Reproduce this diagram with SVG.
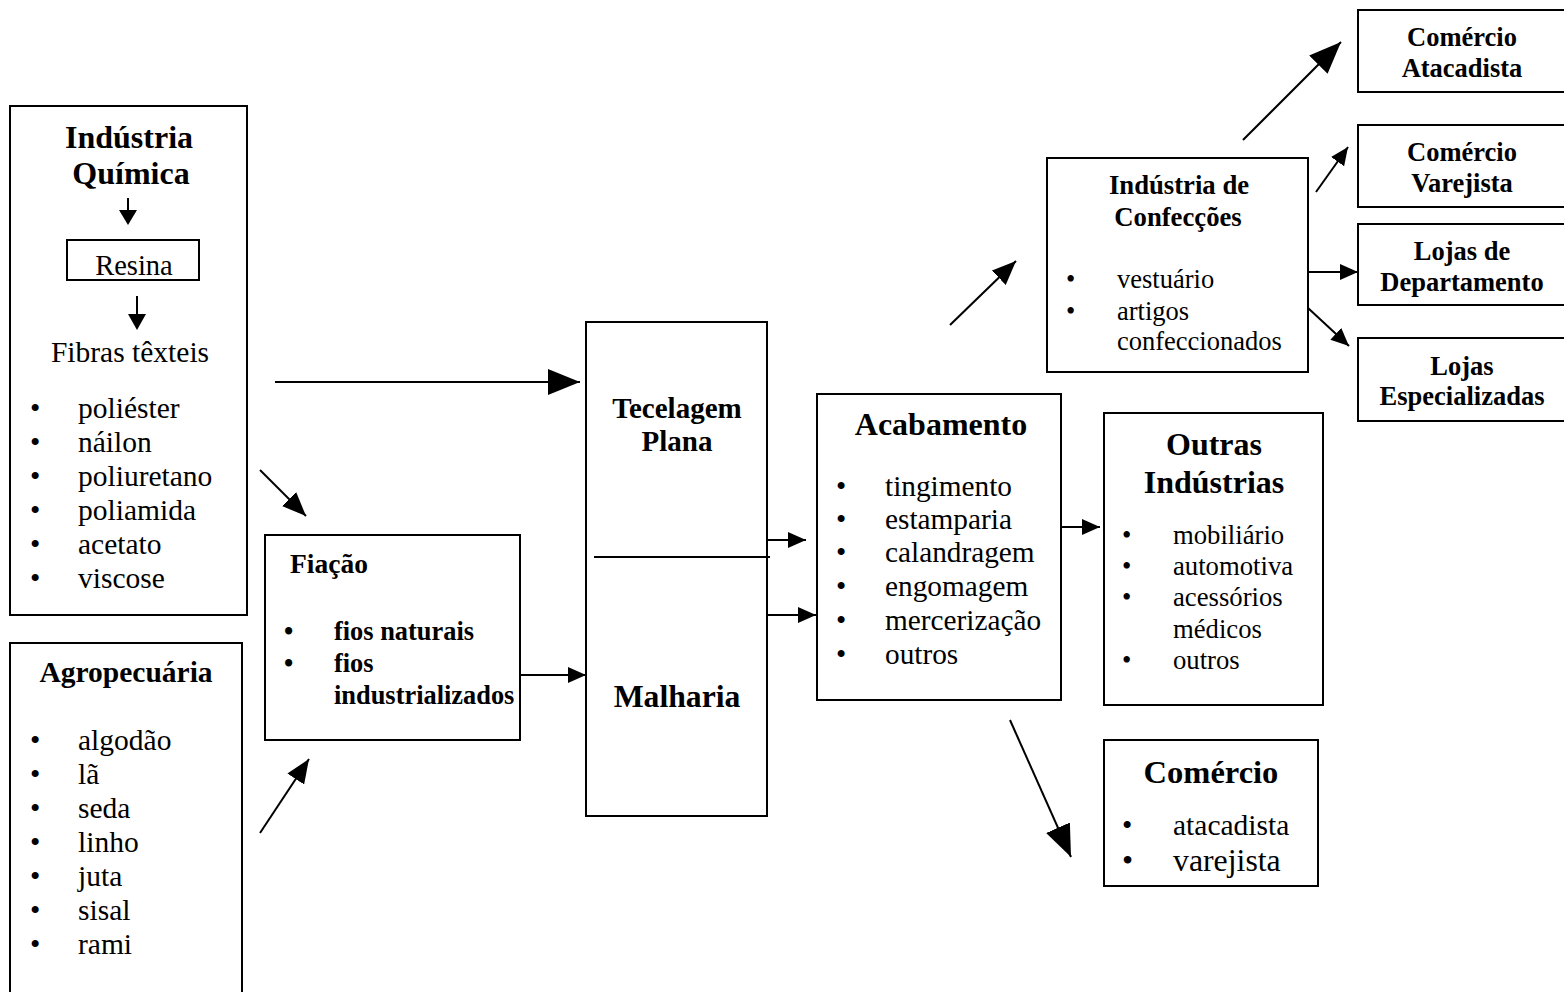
<svg xmlns="http://www.w3.org/2000/svg" width="1564" height="992" viewBox="0 0 1564 992">
<style>
text{font-family:"Liberation Serif","Times New Roman",serif;fill:#000}
.b{font-weight:bold}
.box{fill:none;stroke:#000;stroke-width:2}
.ln{stroke:#000;stroke-width:2;fill:none}
.c{text-anchor:middle}
</style>
<defs>
<marker id="big" markerUnits="userSpaceOnUse" markerWidth="34" markerHeight="26" refX="32" refY="13" orient="auto"><path d="M0,0 L32,13 L0,26 Z" fill="#000"/></marker>
<marker id="mid" markerUnits="userSpaceOnUse" markerWidth="26" markerHeight="20" refX="24" refY="10" orient="auto"><path d="M0,0 L24,10 L0,20 Z" fill="#000"/></marker>
<marker id="sm" markerUnits="userSpaceOnUse" markerWidth="20" markerHeight="16" refX="18" refY="8" orient="auto"><path d="M0,0 L18,8 L0,16 Z" fill="#000"/></marker>
</defs>

<g id="quimica">
<rect class="box" x="10" y="106" width="237" height="509"/>
<text class="b c" x="129" y="148" font-size="32">Indústria</text>
<text class="b c" x="131" y="184" font-size="32">Química</text>
<line class="ln" x1="128" y1="198" x2="128" y2="212"/>
<path d="M119,210 L137,210 L128,225 Z" fill="#000"/>
<rect class="box" x="67" y="240" width="132" height="40"/>
<text class="c" x="134" y="275" font-size="28.5">Resina</text>
<line class="ln" x1="137" y1="296" x2="137" y2="316"/>
<path d="M128,314 L146,314 L137,330 Z" fill="#000"/>
<text class="c" x="130" y="362" font-size="29.5">Fibras têxteis</text>
<g font-size="29.5">
<text x="30" y="418">•</text><text x="78" y="418">poliéster</text>
<text x="30" y="452">•</text><text x="78" y="452">náilon</text>
<text x="30" y="486">•</text><text x="78" y="486">poliuretano</text>
<text x="30" y="520">•</text><text x="78" y="520">poliamida</text>
<text x="30" y="554">•</text><text x="78" y="554">acetato</text>
<text x="30" y="588">•</text><text x="78" y="588">viscose</text>
</g>
</g>

<g id="agro">
<rect class="box" x="10" y="643" width="232" height="360"/>
<text class="b c" x="126" y="682" font-size="29.5">Agropecuária</text>
<g font-size="29.5">
<text x="30" y="750">•</text><text x="78" y="750">algodão</text>
<text x="30" y="784">•</text><text x="78" y="784">lã</text>
<text x="30" y="818">•</text><text x="78" y="818">seda</text>
<text x="30" y="852">•</text><text x="78" y="852">linho</text>
<text x="30" y="886">•</text><text x="78" y="886">juta</text>
<text x="30" y="920">•</text><text x="78" y="920">sisal</text>
<text x="30" y="954">•</text><text x="78" y="954">rami</text>
</g>
</g>

<g id="fiacao">
<rect class="box" x="265" y="535" width="255" height="205"/>
<text class="b" x="290" y="573" font-size="27.5">Fiação</text>
<g class="b" font-size="26.4">
<text x="284" y="640">•</text><text x="334" y="640">fios naturais</text>
<text x="284" y="672">•</text><text x="334" y="672">fios</text>
<text x="334" y="704">industrializados</text>
</g>
</g>

<g id="tecelagem">
<rect class="box" x="586" y="322" width="181" height="494"/>
<line class="ln" x1="594" y1="557" x2="770" y2="557"/>
<text class="b c" x="677" y="418" font-size="29">Tecelagem</text>
<text class="b c" x="677" y="451" font-size="29">Plana</text>
<text class="b c" x="677" y="707" font-size="31.7">Malharia</text>
</g>

<g id="acabamento">
<rect class="box" x="817" y="394" width="244" height="306"/>
<text class="b c" x="941" y="435" font-size="32">Acabamento</text>
<g font-size="29.3">
<text x="836" y="496">•</text><text x="885" y="496">tingimento</text>
<text x="836" y="529">•</text><text x="885" y="529">estamparia</text>
<text x="836" y="562">•</text><text x="885" y="562">calandragem</text>
<text x="836" y="596">•</text><text x="885" y="596">engomagem</text>
<text x="836" y="630">•</text><text x="885" y="630">mercerização</text>
<text x="836" y="664">•</text><text x="885" y="664">outros</text>
</g>
</g>

<g id="outras">
<rect class="box" x="1104" y="413" width="219" height="292"/>
<text class="b c" x="1214" y="455" font-size="32">Outras</text>
<text class="b c" x="1214" y="493" font-size="32">Indústrias</text>
<g font-size="26.7">
<text x="1122" y="544">•</text><text x="1173" y="544">mobiliário</text>
<text x="1122" y="575">•</text><text x="1173" y="575">automotiva</text>
<text x="1122" y="606">•</text><text x="1173" y="606">acessórios</text>
<text x="1173" y="638">médicos</text>
<text x="1122" y="669">•</text><text x="1173" y="669">outros</text>
</g>
</g>

<g id="comercio">
<rect class="box" x="1104" y="740" width="214" height="146"/>
<text class="b c" x="1211" y="783" font-size="32.5">Comércio</text>
<text x="1122" y="835" font-size="29.5">•</text><text x="1173" y="835" font-size="29.5">atacadista</text>
<text x="1122" y="871" font-size="31.8">•</text><text x="1173" y="871" font-size="31.8">varejista</text>
</g>

<g id="confeccoes">
<rect class="box" x="1047" y="158" width="261" height="214"/>
<text class="b c" x="1179" y="194" font-size="26.7">Indústria de</text>
<text class="b c" x="1178" y="226" font-size="26.7">Confecções</text>
<g font-size="26.5">
<text x="1066" y="288">•</text><text x="1117" y="288">vestuário</text>
<text x="1066" y="320">•</text><text x="1117" y="320">artigos</text>
<text x="1117" y="350">confeccionados</text>
</g>
</g>

<g id="atacadista">
<rect class="box" x="1358" y="10" width="210" height="82"/>
<text class="b c" x="1462" y="46" font-size="26.5">Comércio</text>
<text class="b c" x="1462" y="77" font-size="26.5">Atacadista</text>
</g>
<g id="varejista">
<rect class="box" x="1358" y="125" width="210" height="82"/>
<text class="b c" x="1462" y="161" font-size="26.5">Comércio</text>
<text class="b c" x="1462" y="192" font-size="26.5">Varejista</text>
</g>
<g id="departamento">
<rect class="box" x="1358" y="224" width="210" height="81"/>
<text class="b c" x="1462" y="260" font-size="26.5">Lojas de</text>
<text class="b c" x="1462" y="291" font-size="26.5">Departamento</text>
</g>
<g id="especializadas">
<rect class="box" x="1358" y="338" width="210" height="83"/>
<text class="b c" x="1462" y="375" font-size="26.5">Lojas</text>
<text class="b c" x="1462" y="405" font-size="26.5">Especializadas</text>
</g>

<g id="connectors">
<line class="ln" x1="275" y1="382" x2="580" y2="382" stroke-width="3" marker-end="url(#big)"/>
<line class="ln" x1="260" y1="470" x2="306" y2="516" marker-end="url(#mid)"/>
<line class="ln" x1="260" y1="833" x2="309" y2="759" marker-end="url(#mid)"/>
<line class="ln" x1="520" y1="675" x2="586" y2="675" marker-end="url(#sm)"/>
<line class="ln" x1="767" y1="540" x2="806" y2="540" marker-end="url(#sm)"/>
<line class="ln" x1="767" y1="615" x2="816" y2="615" marker-end="url(#sm)"/>
<line class="ln" x1="1061" y1="527" x2="1100" y2="527" marker-end="url(#sm)"/>
<line class="ln" x1="1010" y1="720" x2="1071" y2="857" marker-end="url(#big)"/>
<line class="ln" x1="950" y1="325" x2="1016" y2="261" marker-end="url(#mid)"/>
<line class="ln" x1="1243" y1="140" x2="1341" y2="42" stroke-width="2.5" marker-end="url(#big)"/>
<line class="ln" x1="1316" y1="192" x2="1348" y2="147" marker-end="url(#sm)"/>
<line class="ln" x1="1308" y1="272" x2="1358" y2="272" marker-end="url(#sm)"/>
<line class="ln" x1="1308" y1="308" x2="1349" y2="346" marker-end="url(#sm)"/>
</g>
</svg>
